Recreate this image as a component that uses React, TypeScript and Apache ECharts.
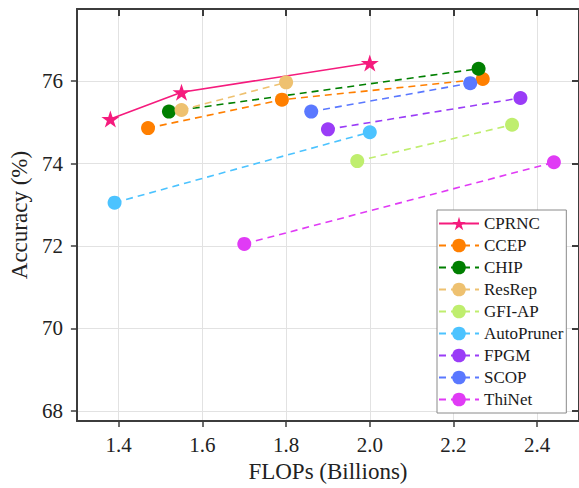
import React, { useEffect, useRef } from 'react';
import * as echarts from 'echarts';

// ---- Data ----
const seriesNames = ['CPRNC', 'CCEP', 'CHIP', 'ResRep', 'GFI-AP', 'AutoPruner', 'FPGM', 'SCOP', 'ThiNet'];
const seriesColors = ['#F51B7D', '#FF7F00', '#007F00', '#EEC170', '#BFEE6E', '#4CC3FF', '#9A3CF7', '#5A78FF', '#E03BF5'];

const cprncFlops = [1.38, 1.55, 2.0];
const cprncAcc = [75.08, 75.73, 76.44];
const ccepFlops = [1.47, 1.79, 2.27];
const ccepAcc = [74.86, 75.55, 76.05];
const chipFlops = [1.52, 2.26];
const chipAcc = [75.26, 76.3];
const resrepFlops = [1.55, 1.8];
const resrepAcc = [75.3, 75.97];
const gfiFlops = [1.97, 2.34];
const gfiAcc = [74.06, 74.94];
const autoFlops = [1.39, 2.0];
const autoAcc = [73.05, 74.76];
const fpgmFlops = [1.9, 2.36];
const fpgmAcc = [74.83, 75.59];
const scopFlops = [1.86, 2.24];
const scopAcc = [75.26, 75.95];
const thinetFlops = [1.7, 2.44];
const thinetAcc = [72.05, 74.03];

const allFlops = [cprncFlops, ccepFlops, chipFlops, resrepFlops, gfiFlops, autoFlops, fpgmFlops, scopFlops, thinetFlops];
const allAcc = [cprncAcc, ccepAcc, chipAcc, resrepAcc, gfiAcc, autoAcc, fpgmAcc, scopAcc, thinetAcc];

const xMin = 1.3, xMax = 2.5, xStep = 0.2;
const yMin = 67.75, yMax = 77.75, yStep = 2;

const STAR = 'path://M100 0 L122.45 69.1 L195.1 69.1 L136.3 111.8 L158.8 180.9 L100 138.2 L41.2 180.9 L63.7 111.8 L4.9 69.1 L77.55 69.1 Z';
const FONT = "'Liberation Serif', 'Times New Roman', serif";
const AXIS_COLOR = '#3c3c3c';

export default function App() {
  const ref = useRef<HTMLDivElement>(null);
  useEffect(() => {
    if (!ref.current) return;
    const chart = echarts.init(ref.current, null, { renderer: 'svg' });
    const series = seriesNames.map((name, i) => ({
      name,
      type: 'line',
      xAxisIndex: 0,
      yAxisIndex: 0,
      data: allFlops[i].map((x, j) => [x, allAcc[i][j]]),
      symbol: i === 0 ? STAR : 'circle',
      symbolSize: i === 0 ? [18, 17] : 14,
      showSymbol: true,
      itemStyle: { color: seriesColors[i], borderWidth: 0 },
      lineStyle: { color: seriesColors[i], width: 1.6, type: i === 0 ? 'solid' : [7, 5] },
      z: 2,
    }));
    const axisLabelStyle = { fontSize: 21, fontFamily: FONT, color: '#222' };
    const xScale = { type: 'value', min: xMin, max: xMax, splitNumber: 6, minInterval: xStep, maxInterval: xStep };
    const yScale = { type: 'value', min: yMin, max: yMax, splitNumber: 5, minInterval: yStep, maxInterval: yStep };
    chart.setOption({
      animation: false,
      backgroundColor: '#fff',
      grid: { left: 72, top: 9, width: 511, height: 413, containLabel: false },
      xAxis: [
        {
          ...xScale, position: 'bottom',
          name: 'FLOPs (Billions)', nameLocation: 'middle', nameGap: 34,
          nameTextStyle: { fontSize: 23, fontFamily: FONT, color: '#222' },
          axisLine: { show: true, lineStyle: { color: AXIS_COLOR, width: 2 } },
          axisTick: { show: true, inside: false, length: 6, lineStyle: { color: AXIS_COLOR, width: 1.5 } },
          axisLabel: { ...axisLabelStyle, margin: 13, showMinLabel: false, showMaxLabel: false,
            formatter: (v: number) => (Math.abs(Math.round(v * 10) % 2) === 0 ? v.toFixed(1) : '') },
          splitLine: { show: true, lineStyle: { color: '#e2e2e2', width: 1 } },
        },
        {
          ...xScale, position: 'top',
          axisLine: { show: true, lineStyle: { color: AXIS_COLOR, width: 2 } },
          axisTick: { show: true, inside: true, length: 7, lineStyle: { color: AXIS_COLOR, width: 2 } },
          axisLabel: { show: false }, splitLine: { show: false },
        },
      ],
      yAxis: [
        {
          ...yScale, position: 'left',
          name: 'Accuracy (%)', nameLocation: 'middle', nameGap: 40, nameRotate: 90,
          nameTextStyle: { fontSize: 23, fontFamily: FONT, color: '#222' },
          axisLine: { show: true, lineStyle: { color: AXIS_COLOR, width: 2 } },
          axisTick: { show: true, inside: false, length: 6, lineStyle: { color: AXIS_COLOR, width: 1.5 } },
          axisLabel: { ...axisLabelStyle, margin: 14, showMinLabel: false, showMaxLabel: false,
            formatter: (v: number) => (Math.abs(v - Math.round(v)) < 1e-6 && Math.round(v) % 2 === 0 ? String(Math.round(v)) : '') },
          splitLine: { show: true, lineStyle: { color: '#e2e2e2', width: 1 } },
        },
        {
          ...yScale, position: 'right',
          axisLine: { show: true, lineStyle: { color: AXIS_COLOR, width: 2 } },
          axisTick: { show: true, inside: true, length: 7, lineStyle: { color: AXIS_COLOR, width: 2 } },
          axisLabel: { show: false }, splitLine: { show: false },
        },
      ],
      legend: {
        data: seriesNames,
        orient: 'vertical',
        left: 437,
        top: 210,
        itemWidth: 40,
        itemHeight: 17,
        itemGap: 5,
        padding: [5, 3, 5, 1],
        borderColor: '#8a8a8a',
        borderWidth: 1,
        borderRadius: 0,
        backgroundColor: '#fff',
        textStyle: { fontSize: 17, fontFamily: FONT, color: '#1a1a1a' },
      },
      series,
    });
    return () => chart.dispose();
  }, []);
  return <div ref={ref} style={{ position: 'fixed', left: 0, top: 0, width: 579, height: 488, background: '#fff' }} />;
}
